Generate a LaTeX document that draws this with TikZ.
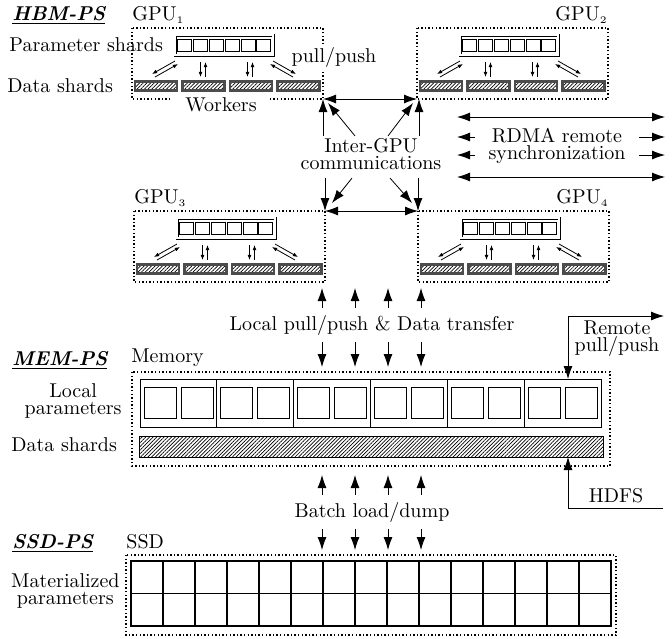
\documentclass[tikz,border=0pt]{standalone}
\usetikzlibrary{arrows.meta,patterns.meta}

\tikzset{
  dotbox/.style={dash pattern=on 0.7pt off 1.1pt, line width=0.6pt},
  hatch/.style={pattern={Lines[angle=45,distance=1.3pt,line width=0.35pt]}},
  shard/.style={draw=black!70, line width=1.1pt, hatch},
  cell/.style={draw, line width=0.5pt},
  gridline/.style={draw, line width=0.7pt},
  parambox/.style={draw, double, double distance=0.7pt, line width=0.4pt},
  big/.style={-{Latex[length=6.5pt,width=4.5pt]}},
  bigboth/.style={{Latex[length=6.5pt,width=4.5pt]}-{Latex[length=6.5pt,width=4.5pt]}},
  smallarr/.style={-{Latex[length=2.6pt,width=2pt]}, line width=0.4pt},
  layer/.style={font=\bfseries\itshape, anchor=base west, inner sep=0pt},
  twoline/.style={align=center, font=\fontsize{10}{8.5}\selectfont, inner sep=1pt},
}

\begin{document}
\begin{tikzpicture}[x=0.5pt,y=-0.5pt]
\useasboundingbox (0,0) rectangle (672,638);

% HBM-PS: four GPUs
\node[layer] (hbm) at (12,20) {\underline{HBM-PS}};
\foreach \n/\gx/\gy/\lx/\side in {1/132/28/0/west,2/417/28/191/east,3/134/211/0/west,4/418/211/191/east}{
  \begin{scope}[shift={(\gx,\gy)}]
    \draw[dotbox] (0,0) rectangle (191,71);
    \coordinate (nw\n) at (0,0);
    \coordinate (ne\n) at (191,0);
    \coordinate (sw\n) at (0,71);
    \coordinate (se\n) at (191,71);
    \node[anchor=base \side, inner sep=0pt] (gl\n) at (\lx,-8) {GPU$_{\scriptscriptstyle\n}$};
    \draw[parambox] (43,7) rectangle (141,27);
    \foreach \k in {0,...,5}
      \draw[cell] ({45.8+15.8*\k},11) rectangle ++(14,12.5);
    \foreach \k in {0,...,3}
      \draw[shard] ({3+47.5*\k},53.5) rectangle ++(42,9);
    % workers <-> parameter shards
    \draw[smallarr] (43,33) -- (20,46);
    \draw[smallarr] (23,49) -- (46,36);
    \draw[smallarr] (68.5,34) -- (68.5,49);
    \draw[smallarr] (73.5,49) -- (73.5,34);
    \draw[smallarr] (115.5,34) -- (115.5,49);
    \draw[smallarr] (120.5,49) -- (120.5,34);
    \draw[smallarr] (141,33) -- (164,46);
    \draw[smallarr] (161,49) -- (138,36);
  \end{scope}
}
\node[fill=white, inner xsep=6.5pt, inner ysep=1.5pt] (workers) at (221,105) {Workers};
\node[anchor=east] (pslbl) at (170,45) {Parameter shards};
\node[anchor=east] (dslbl) at (120,86) {Data shards};
\node[fill=white, inner sep=1pt] (pp) at (334,57) {pull/push};

% inter-GPU
\node[twoline] (igc) at (371,154) {Inter-GPU\\communications};
\draw[bigboth] (se1) -- (sw2);
\draw[bigboth] (ne3) -- (nw4);
\draw[big] (igc.north -| se1) -- (se1);
\draw[big] ([xshift=-8pt]igc.north) -- ([shift={(5,4)}]se1);
\draw[big] ([xshift=8.5pt]igc.north) -- ([shift={(-4,4)}]sw2);
\draw[big] ([xshift=1pt]igc.north -| sw2) -- ([xshift=1pt]sw2);
\draw[big] ([yshift=-3pt]igc.south -| ne3) -- (ne3);
\draw[big] ([shift={(-9.5pt,-3pt)}]igc.south) -- ([shift={(7,-8)}]ne3);
\draw[big] ([shift={(9.5pt,-3pt)}]igc.south) -- ([shift={(-6,-8)}]nw4);
\draw[big] ([yshift=-3pt]igc.south -| nw4) -- (nw4);

% RDMA
\foreach \i/\y in {1/117,2/137,3/155,4/177}{
  \coordinate (r\i w) at (457,\y);
  \coordinate (r\i e) at (665,\y);
}
\draw[bigboth] (r2w) -- (r2e);
\draw[bigboth] (r3w) -- (r3e);
\node[twoline, fill=white, minimum width=82pt] (rdma) at (557,146) {RDMA remote\\synchronization};
\draw[bigboth] (r1w) -- (r1e);
\draw[bigboth] (r4w) -- (r4e);

% MEM-PS
\node[layer] (mem) at (12,365) {\underline{MEM-PS}};
\node[anchor=base west, inner sep=0pt] (memlbl) at (131,362) {Memory};
\draw[dotbox] (132,372) rectangle (610,466);
\coordinate (memnw) at (132,372);
\coordinate (memsw) at (132,466);
\draw[cell] (140,379) rectangle (601,427);
\foreach \k in {0,...,5}{
  \draw[cell] ({144+76.83*\k},387) rectangle ++(32,31);
  \draw[cell] ({181+76.83*\k},387) rectangle ++(32,31);
}
\foreach \k in {1,...,5}
  \draw[cell] ({140+76.83*\k},379) -- ++(0,48);
\draw[cell, hatch] (139,436) rectangle (603,457);
\node[twoline, anchor=east] (lplbl) at (124,401) {Local\\parameters};
\node[anchor=east] (dslbl2) at (124,445) {Data shards};

% local pull/push
\foreach \i/\x in {1/322,2/355,3/388,4/421}
  \coordinate (col\i) at (\x,0);
\node (lpp) at (372,325) {Local pull/push \& Data transfer};
\foreach \i in {1,...,4}{
  \draw[big] (lpp.north -| col\i) -- ([yshift=-3pt]sw3 -| col\i);
  \draw[big] (lpp.south -| col\i) -- ([yshift=2.5pt]memnw -| col\i);
}

% remote and HDFS
\coordinate (rmt) at (568,379);
\coordinate (rmtend) at (664,316);
\draw[bigboth] (rmt) |- (rmtend);
\node[twoline] (rpp) at (617,339) {Remote\\pull/push};
\coordinate (hdfs) at (663,508);
\coordinate (hdfsin) at (568,457);
\draw[big] (hdfs) -| (hdfsin);
\node (hdfslbl) at (616,496) {HDFS};

% SSD-PS
\node[layer] (ssd) at (12,548) {\underline{SSD-PS}};
\node[anchor=base west, inner sep=0pt] (ssdlbl) at (126,548) {SSD};
\draw[dotbox] (126,555) rectangle (616,635);
\coordinate (ssdnw) at (126,555);
\draw[gridline] (131,561) rectangle (611,626);
\draw[gridline] (131,593.5) -- (611,593.5);
\foreach \k in {1,...,14}
  \draw[gridline] ({131+32*\k},561) -- ++(0,65);
\node[twoline, anchor=east] (matlbl) at (122,591) {Materialized\\parameters};

% batch load/dump
\node (bld) at (372,512) {Batch load/dump};
\foreach \i in {1,...,4}{
  \draw[big] (bld.north -| col\i) -- ([yshift=-4.5pt]memsw -| col\i);
  \draw[big] (bld.south -| col\i) -- ([yshift=2.5pt]ssdnw -| col\i);
}
\end{tikzpicture}
\end{document}
